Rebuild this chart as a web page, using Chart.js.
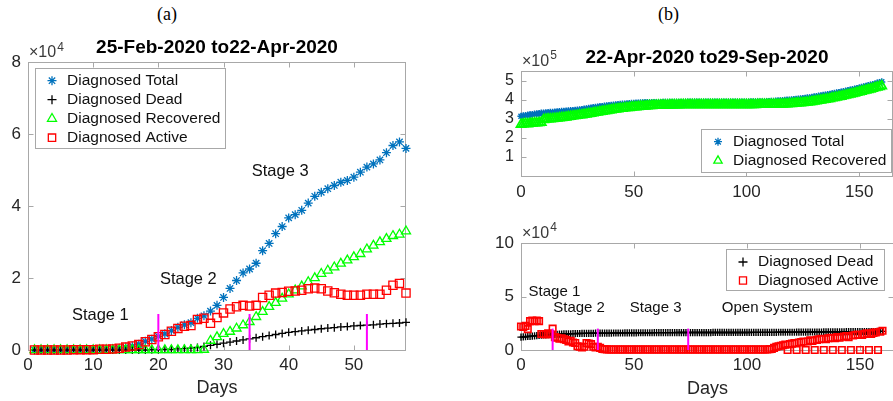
<!DOCTYPE html>
<html>
<head>
<meta charset="utf-8">
<script src="https://cdn.jsdelivr.net/npm/chart.js@4.4.1/dist/chart.umd.min.js"></script>
<style>
  html, body { margin: 0; padding: 0; overflow: hidden; background: #fff; }
  body { position: relative; width: 893px; height: 401px; }
  canvas { position: absolute; }
  .tag { position: absolute; font-family: "Liberation Serif", "Times New Roman", serif; font-size: 18px; line-height: 18px; color: #000; }
</style>
</head>
<body>
<div class="tag" style="left:157px;top:5px">(a)</div>
<div class="tag" style="left:658px;top:5px">(b)</div>
<canvas id="chartA" width="450" height="401" style="left:0;top:0"></canvas>
<canvas id="chartB" width="420" height="200" style="left:480px;top:0"></canvas>
<canvas id="chartC" width="420" height="181" style="left:480px;top:220px"></canvas>
<script>
// Panel (a): 25-Feb-2020 to 22-Apr-2020, values in units of 1e4
const daysA = Array.from({ length: 58 }, (_, i) => i + 1);
const totalA = [
  0.00, 0.00, 0.00, 0.00, 0.00, 0.00, 0.01, 0.01, 0.01, 0.01, 0.02, 0.02, 0.03,
  0.05, 0.08, 0.11, 0.16, 0.24, 0.30, 0.38, 0.45, 0.54, 0.63,
  0.70, 0.76, 0.88, 0.95, 1.08, 1.24, 1.46, 1.71, 1.93, 2.14,
  2.25, 2.41, 2.76, 2.96, 3.23, 3.43, 3.67, 3.76, 3.88, 4.08,
  4.27, 4.38, 4.48, 4.57, 4.66, 4.71, 4.80, 4.94, 5.08, 5.17,
  5.28, 5.48, 5.68, 5.78, 5.60
];
const deadA = [
  0, 0, 0, 0, 0, 0, 0, 0, 0, 0, 0, 0, 0,
  0.00, 0.00, 0.00, 0.00, 0.00, 0.01, 0.01, 0.02, 0.02, 0.03,
  0.04, 0.05, 0.07, 0.10, 0.13, 0.16, 0.19, 0.22, 0.25, 0.28,
  0.31, 0.34, 0.37, 0.40, 0.43, 0.46, 0.49, 0.51, 0.53, 0.55,
  0.57, 0.59, 0.61, 0.62, 0.64, 0.65, 0.67, 0.68, 0.69, 0.70,
  0.72, 0.73, 0.74, 0.75, 0.77
];
const recoveredA = [
  0, 0, 0, 0, 0, 0, 0, 0, 0, 0, 0, 0, 0,
  0, 0, 0, 0, 0, 0, 0, 0, 0, 0,
  0, 0, 0, 0.01, 0.26, 0.36, 0.45, 0.51, 0.60, 0.69,
  0.78, 0.92, 1.06, 1.20, 1.31, 1.43, 1.55, 1.66, 1.77, 1.89,
  2.00, 2.12, 2.21, 2.30, 2.40, 2.49, 2.58, 2.67, 2.80, 2.90,
  3.00, 3.09, 3.17, 3.21, 3.30
];
const activeA = [
  0.00, 0.00, 0.00, 0.00, 0.00, 0.00, 0.01, 0.01, 0.01, 0.01, 0.02, 0.02, 0.03,
  0.05, 0.08, 0.11, 0.15, 0.23, 0.29, 0.37, 0.43, 0.52, 0.60,
  0.66, 0.68, 0.85, 0.88, 0.74, 0.90, 1.03, 1.14, 1.20, 1.24,
  1.22, 1.24, 1.46, 1.52, 1.58, 1.60, 1.63, 1.64, 1.66, 1.70,
  1.72, 1.70, 1.64, 1.59, 1.55, 1.52, 1.52, 1.52, 1.55, 1.55,
  1.55, 1.66, 1.80, 1.85, 1.58
];
const stageDaysA = [20, 34, 52];
const stageTopA = 1.0;
const stageNotesA = [
  { text: 'Stage 1', x: 11.1, y: 0.95 },
  { text: 'Stage 2', x: 24.6, y: 1.96 },
  { text: 'Stage 3', x: 38.7, y: 4.96 }
];

// Panel (b): 22-Apr-2020 to 29-Sep-2020
const daysB = Array.from({ length: 161 }, (_, i) => i);
// top, units of 1e5
const totalB = [
  3.13, 3.15, 3.17, 3.19, 3.21, 3.22, 3.24, 3.26, 3.27, 3.29,
  3.30, 3.31, 3.32, 3.33, 3.34, 3.35, 3.36, 3.37, 3.38, 3.39,
  3.40, 3.41, 3.42, 3.43, 3.44, 3.45, 3.47, 3.48, 3.50, 3.52,
  3.54, 3.56, 3.58, 3.60, 3.61, 3.63, 3.64, 3.66, 3.67, 3.69,
  3.70, 3.71, 3.73, 3.74, 3.75, 3.76, 3.77, 3.78, 3.79, 3.80,
  3.81, 3.82, 3.82, 3.83, 3.83, 3.84, 3.84, 3.84, 3.85, 3.85,
  3.85, 3.85, 3.85, 3.86, 3.86, 3.86, 3.86, 3.86, 3.86, 3.86,
  3.86, 3.86, 3.86, 3.86, 3.87, 3.87, 3.87, 3.87, 3.87, 3.87,
  3.87, 3.87, 3.87, 3.87, 3.87, 3.87, 3.87, 3.87, 3.87, 3.87,
  3.87, 3.87, 3.87, 3.87, 3.87, 3.87, 3.87, 3.87, 3.87, 3.87,
  3.87, 3.87, 3.88, 3.88, 3.88, 3.88, 3.89, 3.89, 3.89, 3.90,
  3.90, 3.91, 3.91, 3.92, 3.93, 3.94, 3.95, 3.96, 3.97, 3.98,
  3.99, 4.00, 4.02, 4.03, 4.04, 4.06, 4.07, 4.09, 4.10, 4.12,
  4.14, 4.16, 4.18, 4.20, 4.22, 4.24, 4.26, 4.28, 4.30, 4.33,
  4.35, 4.37, 4.40, 4.42, 4.45, 4.47, 4.50, 4.53, 4.55, 4.58,
  4.61, 4.64, 4.67, 4.70, 4.73, 4.76, 4.79, 4.82, 4.86, 4.89,
  4.93
];
const recoveredB = [
  2.70, 2.72, 2.74, 2.73, 2.75, 2.76, 2.78, 2.77, 2.79, 2.80,
  2.95, 2.97, 2.98, 2.99, 3.00, 3.01, 3.02, 3.04, 3.05, 3.06,
  3.08, 3.10, 3.12, 3.14, 3.15, 3.17, 3.19, 3.20, 3.22, 3.24,
  3.26, 3.28, 3.30, 3.32, 3.34, 3.36, 3.38, 3.40, 3.42, 3.44,
  3.46, 3.48, 3.50, 3.51, 3.53, 3.54, 3.56, 3.57, 3.58, 3.60,
  3.61, 3.62, 3.63, 3.64, 3.65, 3.66, 3.67, 3.68, 3.68, 3.69,
  3.69, 3.70, 3.70, 3.71, 3.71, 3.71, 3.72, 3.72, 3.72, 3.72,
  3.72, 3.73, 3.73, 3.73, 3.73, 3.73, 3.73, 3.73, 3.73, 3.73,
  3.73, 3.73, 3.73, 3.73, 3.73, 3.73, 3.73, 3.73, 3.73, 3.73,
  3.73, 3.73, 3.73, 3.73, 3.73, 3.73, 3.73, 3.73, 3.73, 3.73,
  3.73, 3.73, 3.73, 3.73, 3.73, 3.74, 3.74, 3.74, 3.74, 3.74,
  3.74, 3.74, 3.75, 3.75, 3.75, 3.76, 3.76, 3.77, 3.77, 3.78,
  3.79, 3.80, 3.81, 3.82, 3.83, 3.84, 3.85, 3.86, 3.88, 3.89,
  3.91, 3.93, 3.95, 3.97, 3.99, 4.01, 4.03, 4.05, 4.08, 4.10,
  4.12, 4.15, 4.17, 4.20, 4.23, 4.25, 4.28, 4.31, 4.34, 4.37,
  4.40, 4.43, 4.46, 4.49, 4.52, 4.55, 4.58, 4.62, 4.65, 4.68,
  4.72
];
// bottom, units of 1e4
const deadB = [
  1.20, 1.22, 1.24, 1.26, 1.28, 1.30, 1.32, 1.34, 1.36, 1.38,
  1.40, 1.41, 1.43, 1.44, 1.45, 1.46, 1.47, 1.48, 1.49, 1.50,
  1.51, 1.52, 1.52, 1.53, 1.53, 1.54, 1.54, 1.55, 1.55, 1.55,
  1.56, 1.56, 1.56, 1.57, 1.57, 1.57, 1.57, 1.58, 1.58, 1.58,
  1.58, 1.59, 1.59, 1.59, 1.59, 1.59, 1.60, 1.60, 1.60, 1.60,
  1.60, 1.60, 1.61, 1.61, 1.61, 1.61, 1.61, 1.61, 1.61, 1.62,
  1.62, 1.62, 1.62, 1.62, 1.62, 1.62, 1.62, 1.62, 1.62, 1.63,
  1.63, 1.63, 1.63, 1.63, 1.63, 1.63, 1.63, 1.63, 1.63, 1.63,
  1.63, 1.63, 1.63, 1.63, 1.63, 1.64, 1.64, 1.64, 1.64, 1.64,
  1.64, 1.64, 1.64, 1.64, 1.64, 1.64, 1.64, 1.64, 1.64, 1.64,
  1.64, 1.64, 1.65, 1.65, 1.65, 1.65, 1.65, 1.65, 1.65, 1.65,
  1.65, 1.65, 1.65, 1.65, 1.66, 1.66, 1.66, 1.66, 1.66, 1.66,
  1.66, 1.66, 1.67, 1.67, 1.67, 1.67, 1.67, 1.67, 1.68, 1.68,
  1.68, 1.68, 1.68, 1.68, 1.69, 1.69, 1.69, 1.69, 1.69, 1.70,
  1.70, 1.70, 1.70, 1.70, 1.71, 1.71, 1.71, 1.71, 1.71, 1.72,
  1.72, 1.72, 1.72, 1.72, 1.73, 1.73, 1.73, 1.73, 1.74, 1.74,
  1.74
];
const activeB = [
  2.20, 2.15, 2.25, 1.95, 2.70, 2.75, 2.70, 2.75, 2.70, 1.50,
  1.50, 1.45, 1.55, 1.50, 2.00, 1.20, 1.15, 1.05, 1.10, 1.00,
  0.95, 0.80, 0.85, 0.70, 0.65, 0.35, 0.30, 0.25, 0.30, 0.65,
  0.60, 0.55, 0.30, 0.25, 0.30, 0.20, 0.10, 0.08, 0.06, 0.05,
  0.05, 0.05, 0.04, 0.05, 0.05, 0.05, 0.04, 0.05, 0.05, 0.05,
  0.05, 0.04, 0.05, 0.05, 0.05, 0.05, 0.04, 0.05, 0.05, 0.05,
  0.05, 0.05, 0.04, 0.05, 0.05, 0.05, 0.05, 0.04, 0.05, 0.05,
  0.05, 0.05, 0.05, 0.04, 0.05, 0.05, 0.05, 0.05, 0.04, 0.05,
  0.05, 0.05, 0.05, 0.05, 0.04, 0.05, 0.05, 0.05, 0.05, 0.04,
  0.05, 0.05, 0.05, 0.05, 0.05, 0.04, 0.05, 0.05, 0.05, 0.05,
  0.04, 0.05, 0.05, 0.05, 0.05, 0.05, 0.04, 0.05, 0.05, 0.05,
  0.08, 0.10, 0.20, 0.30, 0.35, 0.40, 0.45, 0.50, 0.00, 0.55,
  0.60, 0.65, 0.00, 0.70, 0.75, 0.80, 0.00, 0.80, 0.90, 0.85,
  0.00, 0.95, 1.00, 1.05, 0.00, 1.00, 1.10, 1.15, 0.00, 1.10,
  1.20, 1.15, 0.00, 1.25, 1.30, 1.20, 0.00, 1.35, 1.40, 1.45,
  0.00, 1.40, 1.50, 1.55, 0.00, 1.50, 1.60, 1.65, 0.00, 1.70,
  1.80
];
const stageDaysB = [14, 34, 74];
const stageTopB = 2.0;
const stageNotesB = [
  { text: 'Stage 1', x: 14.8, y: 5.4 },
  { text: 'Stage 2', x: 25.7, y: 3.92 },
  { text: 'Stage 3', x: 59.6, y: 3.92 },
  { text: 'Open System', x: 109, y: 3.92 }
];

const FONT = '"Liberation Sans", Arial, Helvetica, sans-serif';
const INK = '#262626';
const BOX = '#a8a8a8';
const C_TOTAL = '#0072BD';
const C_DEAD = '#000000';
const C_REC = '#00FF00';
const C_ACT = '#FF0000';
const C_STAGE = '#FF00FF';

function drawMarker(ctx, style, cx, cy, r, color) {
  ctx.save();
  ctx.strokeStyle = color;
  ctx.lineWidth = 1.3;
  ctx.beginPath();
  if (style === 'star' || style === 'cross') {
    ctx.moveTo(cx - r, cy); ctx.lineTo(cx + r, cy);
    ctx.moveTo(cx, cy - r); ctx.lineTo(cx, cy + r);
  }
  if (style === 'star') {
    const d = r * Math.SQRT1_2;
    ctx.moveTo(cx - d, cy - d); ctx.lineTo(cx + d, cy + d);
    ctx.moveTo(cx - d, cy + d); ctx.lineTo(cx + d, cy - d);
  }
  if (style === 'triangle') {
    ctx.moveTo(cx, cy - r);
    ctx.lineTo(cx + r * 0.866, cy + r / 2);
    ctx.lineTo(cx - r * 0.866, cy + r / 2);
    ctx.closePath();
  }
  if (style === 'rect') {
    const s = r * Math.SQRT1_2;
    ctx.rect(cx - s, cy - s, 2 * s, 2 * s);
  }
  ctx.stroke();
  ctx.restore();
}

// MATLAB-like box, inward ticks, title, exponent, stage notes, legend
const panelDecor = {
  id: 'panelDecor',
  beforeDatasetsDraw(chart, args, o) {
    const { ctx, chartArea: a } = chart;
    const x = chart.scales.x, y = chart.scales.y;
    const L = Math.round(a.left) + 0.5, R = Math.round(a.right) - 0.5;
    const T = Math.round(a.top) + 0.5, B = Math.round(a.bottom) + 0.5;
    ctx.save();
    ctx.strokeStyle = BOX;
    ctx.lineWidth = 1;
    ctx.strokeRect(L, T, R - L, B - T);
    ctx.beginPath();
    x.ticks.forEach(t => {
      const p = Math.round(x.getPixelForValue(t.value)) + 0.5;
      ctx.moveTo(p, B); ctx.lineTo(p, B - 5);
      ctx.moveTo(p, T); ctx.lineTo(p, T + 5);
    });
    y.ticks.forEach(t => {
      const p = Math.round(y.getPixelForValue(t.value)) + 0.5;
      ctx.moveTo(L, p); ctx.lineTo(L + 5, p);
      ctx.moveTo(R, p); ctx.lineTo(R - 5, p);
    });
    ctx.stroke();
    ctx.restore();
  },
  afterDatasetsDraw(chart, args, o) {
    const { ctx, chartArea: a } = chart;
    const x = chart.scales.x, y = chart.scales.y;
    ctx.save();
    ctx.textBaseline = 'middle';

    if (o.title) {
      ctx.font = 'bold 19px ' + FONT;
      ctx.fillStyle = '#000';
      ctx.textAlign = 'center';
      ctx.fillText(o.title, (a.left + a.right) / 2, a.top - o.titleGap);
    }

    // exponent label
    ctx.textAlign = 'left';
    ctx.textBaseline = 'alphabetic';
    ctx.fillStyle = '#3a3a3a';
    ctx.font = '16px ' + FONT;
    const ex = a.left + 1, ey = a.top - 5;
    ctx.fillText('\u00d710', ex, ey);
    const w = ctx.measureText('\u00d710').width;
    ctx.font = '12px ' + FONT;
    ctx.fillText(o.power, ex + w + 1, ey - o.powerRise);

    // stage notes
    ctx.fillStyle = '#111';
    ctx.font = o.noteSize + 'px ' + FONT;
    ctx.textAlign = 'center';
    ctx.textBaseline = 'middle';
    (o.notes || []).forEach(n => {
      ctx.fillText(n.text, x.getPixelForValue(n.x), y.getPixelForValue(n.y));
    });

    // legend
    const lg = o.legend;
    ctx.font = '15.5px ' + FONT;
    const tw = Math.max(...lg.items.map(it => ctx.measureText(it.label).width));
    const bx = a.left + lg.dx, by = a.top + lg.dy;
    const bw = 32 + tw + 5, bh = lg.first + lg.rowH * (lg.items.length - 1) + lg.last;
    ctx.fillStyle = '#fff';
    ctx.fillRect(bx, by, bw, bh);
    ctx.strokeStyle = BOX;
    ctx.lineWidth = 1;
    ctx.strokeRect(Math.round(bx) + 0.5, Math.round(by) + 0.5, Math.round(bw), Math.round(bh));
    ctx.textAlign = 'left';
    lg.items.forEach((it, i) => {
      const cy = by + lg.first + i * lg.rowH;
      drawMarker(ctx, it.style, bx + 17, cy, it.r, it.color);
      ctx.fillStyle = '#111';
      ctx.fillText(it.label, bx + 32, cy);
    });
    ctx.restore();
  }
};

function pts(xs, ys) {
  return xs.map((d, i) => ({ x: d, y: ys[i] }));
}

function markerSet(label, xs, ys, style, color, r, order, bw) {
  return {
    label, data: pts(xs, ys), order, clip: false, showLine: false,
    pointStyle: style, pointRadius: r, pointBorderWidth: bw || 1.3,
    pointBorderColor: color, pointBackgroundColor: 'rgba(0,0,0,0)'
  };
}

function stageSets(days, top) {
  return days.map(d => ({
    type: 'line', data: [{ x: d, y: 0 }, { x: d, y: top }], order: 0, clip: false,
    showLine: true, borderColor: C_STAGE, borderWidth: 2, pointRadius: 0
  }));
}

function makePanel(id, p) {
  return new Chart(document.getElementById(id), {
    type: 'scatter',
    data: { datasets: p.datasets },
    options: {
      responsive: false,
      animation: false,
      events: [],
      layout: { padding: p.padding },
      plugins: {
        legend: { display: false },
        tooltip: { enabled: false },
        panelDecor: p.decor
      },
      scales: {
        x: {
          type: 'linear', min: 0, max: p.xMax,
          afterFit: s => { s.height = p.xHeight; },
          grid: { display: false, drawTicks: false },
          border: { display: false },
          ticks: {
            stepSize: p.xStep, includeBounds: false, maxRotation: 0, autoSkip: false,
            padding: p.xPad, color: INK, font: { family: FONT, size: 17 }
          },
          title: {
            display: !!p.xTitle, text: p.xTitle || '', color: INK,
            font: { family: FONT, size: 18 }, padding: { top: 0, bottom: 1.2 }
          }
        },
        y: {
          type: 'linear', min: 0, max: p.yMax,
          afterFit: s => { s.width = p.yWidth; },
          grid: { display: false, drawTicks: false },
          border: { display: false },
          ticks: {
            stepSize: p.yStep, includeBounds: false, autoSkip: false, padding: 7, color: INK,
            font: { family: FONT, size: p.yFont || 17 },
            callback: v => (p.hideZero && v === 0) ? '' : v
          }
        }
      }
    },
    plugins: [panelDecor]
  });
}

makePanel('chartA', {
  datasets: [
    markerSet('Diagnosed Total', daysA, totalA, 'star', C_TOTAL, 4.5, 4),
    markerSet('Diagnosed Dead', daysA, deadA, 'cross', C_DEAD, 4, 3),
    markerSet('Diagnosed Recovered', daysA, recoveredA, 'triangle', C_REC, 5.2, 2),
    markerSet('Diagnosed Active', daysA, activeA, 'rect', C_ACT, 5.8, 1),
    ...stageSets(stageDaysA, stageTopA)
  ],
  padding: { left: 0, top: 62, right: 44, bottom: 1 },
  xMax: 58, xStep: 10, xHeight: 50, xPad: 5, xTitle: 'Days',
  yMax: 8, yStep: 2, yWidth: 28,
  decor: {
    title: '25-Feb-2020 to22-Apr-2020', titleGap: 14, power: '4', powerRise: 6,
    noteSize: 16.5, notes: stageNotesA,
    legend: {
      dx: 7, dy: 6, first: 12.7, rowH: 19, last: 10.5,
      items: [
        { label: 'Diagnosed Total', style: 'star', color: C_TOTAL, r: 4.5 },
        { label: 'Diagnosed Dead', style: 'cross', color: C_DEAD, r: 4.5 },
        { label: 'Diagnosed Recovered', style: 'triangle', color: C_REC, r: 5.2 },
        { label: 'Diagnosed Active', style: 'rect', color: C_ACT, r: 5.2 }
      ]
    }
  }
});

makePanel('chartB', {
  datasets: [
    markerSet('Diagnosed Total', daysB, totalB, 'star', C_TOTAL, 3.6, 2, 1.5),
    markerSet('Diagnosed Recovered', daysB, recoveredB, 'triangle', C_REC, 5.2, 1, 1.8)
  ],
  padding: { left: 0, top: 71, right: 0, bottom: 0 },
  xMax: 165, xStep: 50, xHeight: 24, xPad: 6,
  yMax: 5.5, yStep: 1, yWidth: 41, hideZero: true, yFont: 16,
  decor: {
    title: '22-Apr-2020 to29-Sep-2020', titleGap: 13, power: '5', powerRise: 7,
    noteSize: 15, notes: [],
    legend: {
      dx: 180, dy: 58, first: 12.7, rowH: 19, last: 11.3,
      items: [
        { label: 'Diagnosed Total', style: 'star', color: C_TOTAL, r: 4 },
        { label: 'Diagnosed Recovered', style: 'triangle', color: C_REC, r: 4.8 }
      ]
    }
  }
});

makePanel('chartC', {
  datasets: [
    markerSet('Diagnosed Dead', daysB, deadB, 'cross', C_DEAD, 3.6, 2, 1.4),
    markerSet('Diagnosed Active', daysB, activeB, 'rect', C_ACT, 4.6, 1, 1.6),
    ...stageSets(stageDaysB, stageTopB)
  ],
  padding: { left: 0, top: 23, right: 0, bottom: 0 },
  xMax: 165, xStep: 50, xHeight: 51, xPad: 5, xTitle: 'Days',
  yMax: 10, yStep: 5, yWidth: 41,
  decor: {
    title: '', titleGap: 0, power: '4', powerRise: 7,
    noteSize: 15, notes: stageNotesB,
    legend: {
      dx: 205, dy: 6, first: 13, rowH: 18.5, last: 9.5,
      items: [
        { label: 'Diagnosed Dead', style: 'cross', color: C_DEAD, r: 4.5 },
        { label: 'Diagnosed Active', style: 'rect', color: C_ACT, r: 5 }
      ]
    }
  }
});
</script>
</body>
</html>
